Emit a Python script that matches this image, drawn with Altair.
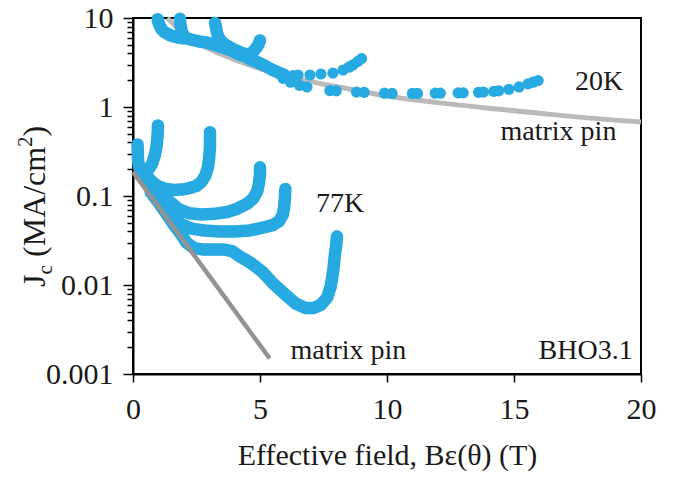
import altair as alt
import pandas as pd

FONT = "Liberation Serif, Times New Roman, Times, DejaVu Serif, serif"
BLUE = "#27a9e1"
GRAY20 = "#bababa"
GRAY77 = "#939393"
INK = "#1a1a1a"

# ---------------- data ----------------
# 77 K angular Jc curves vs effective field (T, MA/cm2)
k77_a_x = [0.18, 0.19, 0.20, 0.24, 0.35, 0.50, 0.62, 0.75, 0.85, 0.92, 0.96, 0.98, 0.98]
k77_a_y = [0.38, 0.30, 0.25, 0.21, 0.19, 0.19, 0.20, 0.23, 0.28, 0.35, 0.45, 0.55, 0.62]

k77_b_x = [0.35, 0.60, 0.80, 1.00, 1.30, 1.60, 1.90, 2.20, 2.50, 2.70, 2.85, 2.95, 3.00, 3.03, 3.03, 3.03]
k77_b_y = [0.19, 0.16, 0.14, 0.128, 0.12, 0.117, 0.118, 0.122, 0.13, 0.145, 0.17, 0.21, 0.27, 0.35, 0.44, 0.52]

k77_c_x = [0.30, 0.50, 0.75, 1.00, 1.25, 1.50, 1.77, 2.20, 2.70, 3.20, 3.70, 4.10, 4.50, 4.75, 4.90, 4.97, 5.00, 5.00]
k77_c_y = [0.17, 0.15, 0.125, 0.108, 0.095, 0.084, 0.072, 0.064, 0.062, 0.063, 0.066, 0.072, 0.082, 0.095, 0.115, 0.145, 0.18, 0.21]

k77_d_x = [0.45, 0.70, 1.00, 1.30, 1.60, 1.90, 2.30, 2.80, 3.40, 4.00, 4.60, 5.10, 5.50, 5.75, 5.90, 5.95, 5.98, 6.00]
k77_d_y = [0.15, 0.12, 0.094, 0.075, 0.058, 0.048, 0.043, 0.041, 0.040, 0.040, 0.041, 0.044, 0.047, 0.052, 0.062, 0.075, 0.095, 0.12]

k77_e_x = [0.70, 1.00, 1.30, 1.60, 1.90, 2.10, 2.40, 2.80, 3.20, 3.60, 3.90, 4.20, 4.60, 5.10, 5.50, 6.00,
           6.40, 6.80, 7.10, 7.40, 7.64, 7.78, 7.85, 7.90, 7.95, 8.00, 8.03]
k77_e_y = [0.11, 0.085, 0.064, 0.048, 0.037, 0.030, 0.026, 0.025, 0.025, 0.025, 0.024, 0.021, 0.018, 0.014, 0.0105, 0.0078,
           0.0062, 0.0055, 0.0055, 0.006, 0.0072, 0.0095, 0.0125, 0.016, 0.022, 0.028, 0.035]

# 20 K angular Jc curves
k20_a_x = [0.97, 1.00, 1.05, 1.12, 1.22, 1.34, 1.46, 1.62, 1.80, 2.00]
k20_a_y = [9.7, 9.0, 8.2, 7.5, 7.0, 6.7, 6.4, 6.2, 6.0, 5.9]

k20_b_x = [1.85, 1.86, 1.88, 1.92, 2.05, 2.30, 2.60, 2.90, 3.20, 3.50, 3.80, 4.10, 4.40, 4.70, 4.90, 5.20, 5.50, 5.75, 5.95]
k20_b_y = [9.8, 9.0, 8.0, 7.0, 6.0, 5.7, 5.45, 5.3, 5.0, 4.7, 4.4, 4.0, 3.7, 3.35, 3.2, 2.9, 2.6, 2.42, 2.3]

k20_c_x = [3.23, 3.27, 3.30, 3.35, 3.45, 3.60, 3.80, 4.00, 4.20, 4.40, 4.55, 4.72, 4.85, 4.95, 5.00]
k20_c_y = [8.8, 7.8, 7.0, 6.2, 5.6, 5.1, 4.7, 4.4, 4.15, 3.95, 3.9, 4.15, 4.6, 5.1, 5.6]

k20_d_x = [5.95, 6.30, 6.50, 6.97, 7.40, 7.87, 8.27, 8.50, 8.66, 8.85, 9.00]
k20_d_y = [2.3, 2.25, 2.29, 2.29, 2.35, 2.4, 2.6, 2.8, 2.97, 3.25, 3.5]

k20_e_x = [5.90, 6.20, 6.55, 6.85, 7.75, 8.00, 8.80, 9.10, 9.90, 10.20, 11.00, 11.20, 11.90, 12.10, 12.80, 13.00,
           13.60, 13.80, 14.20, 14.40, 14.80, 15.20, 15.55, 15.75, 15.95]
k20_e_y = [2.1, 1.9, 1.75, 1.68, 1.53, 1.52, 1.47, 1.46, 1.43, 1.42, 1.42, 1.42, 1.43, 1.43, 1.44, 1.44,
           1.46, 1.47, 1.5, 1.52, 1.58, 1.68, 1.82, 1.9, 1.98]

# matrix-pinning guide lines
m20_x = [1.35, 1.6, 2.0, 2.5, 3.0, 4.0, 5.0, 6.0, 7.0, 8.0, 10.0, 12.0, 14.0, 16.0, 18.0, 20.0]
m20_y = [10.0, 8.5, 6.8, 5.4, 4.5, 3.4, 2.7, 2.25, 1.93, 1.7, 1.33, 1.12, 0.97, 0.85, 0.75, 0.68]
m77_x = [0.0, 5.38]
m77_y = [0.187, 0.0015]

# annotations
ann_text = ["20K", "matrix pin", "77K", "matrix pin", "BHO3.1"]
ann_x = [18.35, 16.75, 8.15, 8.48, 17.82]
ann_y = [1.91, 0.524, 0.081, 0.00181, 0.00179]

# ---------------- tables ----------------
band_curves = {
    "77a": (k77_a_x, k77_a_y), "77b": (k77_b_x, k77_b_y), "77c": (k77_c_x, k77_c_y),
    "77d": (k77_d_x, k77_d_y), "77e": (k77_e_x, k77_e_y),
    "20a": (k20_a_x, k20_a_y), "20b": (k20_b_x, k20_b_y), "20c": (k20_c_x, k20_c_y),
}
dot_curves = {"20d": (k20_d_x, k20_d_y), "20e": (k20_e_x, k20_e_y)}

def table(curves):
    rows = []
    for name, (xs, ys) in curves.items():
        for i, (xv, yv) in enumerate(zip(xs, ys)):
            rows.append({"curve": name, "i": i, "x": xv, "y": yv})
    return pd.DataFrame(rows)

band_df = table(band_curves)
all_df = pd.concat([band_df, table(dot_curves)], ignore_index=True)
m20_df = pd.DataFrame({"x": m20_x, "y": m20_y})
m77_df = pd.DataFrame({"x": m77_x, "y": m77_y})
ann_df = pd.DataFrame({"x": ann_x, "y": ann_y, "t": ann_text})

# ---------------- scales / axes ----------------
decade_test = "abs(log(datum.value)/LN10 - round(log(datum.value)/LN10)) < 0.001"
y_ticks = [m * 10.0 ** e for e in range(-3, 1) for m in range(1, 10)] + [10.0]

X = alt.X("x:Q", scale=alt.Scale(domain=[0, 20], nice=False, zero=False),
          axis=alt.Axis(values=[0, 5, 10, 15, 20], format="d", tickSize=8, labelPadding=12,
                        titlePadding=16),
          title="Effective field, Bε(θ) (T)")
Y = alt.Y("y:Q", scale=alt.Scale(type="log", domain=[0.001, 10], nice=False),
          axis=alt.Axis(values=y_ticks,
                        labelExpr=f"({decade_test}) ? format(datum.value, '~g') : ''",
                        tickSize={"condition": {"test": decade_test, "value": 10}, "value": 6},
                        labelPadding=10),
          title=None)

m20 = alt.Chart(m20_df).mark_line(color=GRAY20, strokeWidth=5, interpolate="monotone").encode(x=X, y=Y)
bands = alt.Chart(band_df).mark_line(color=BLUE, strokeWidth=12.5, strokeCap="round", strokeJoin="round").encode(
    x=X, y=Y, detail="curve:N", order="i:Q")
dots = alt.Chart(all_df).mark_circle(color=BLUE, size=125, opacity=1).encode(x=X, y=Y)
m77 = alt.Chart(m77_df).mark_line(color=GRAY77, strokeWidth=4.5).encode(x=X, y=Y)
ann = alt.Chart(ann_df).mark_text(font=FONT, fontSize=28, color=INK, align="center", baseline="middle").encode(
    x=X, y=Y, text="t:N")


# y-axis title with subscript / superscript (pixel placement, left of plot)
def ttl(txt, px, py, fs):
    return alt.Chart(pd.DataFrame({"t": [txt]})).mark_text(
        font=FONT, fontSize=fs, color=INK, angle=270, align="left", baseline="alphabetic"
    ).encode(x=alt.value(px), y=alt.value(py), text="t:N")

ytitle = (ttl("J", -88, 269, 32) + ttl("c", -81, 256.5, 21) + ttl("(MA/cm", -88, 239, 32)
          + ttl("2", -101, 129, 21) + ttl(")", -88, 118.5, 32))

chart = alt.layer(m20, bands, dots, m77, ann, ytitle).properties(
    width=508, height=356,
    padding={"left": 133, "top": 18, "right": 37, "bottom": 104},
    autosize=alt.AutoSizeParams(type="none"),
).configure_axis(
    labelFont=FONT, titleFont=FONT, labelFontSize=30, titleFontSize=30, titleFontWeight="normal",
    labelColor=INK, titleColor=INK, domainColor="black", domainWidth=2, tickColor="black",
    tickWidth=1.5, grid=False, labelFlush=False, labelOverlap=False,
).configure_text(font=FONT).configure_view(stroke="black", strokeWidth=2)

chart.save("out.html", embed_options={"renderer": "svg", "actions": False})
